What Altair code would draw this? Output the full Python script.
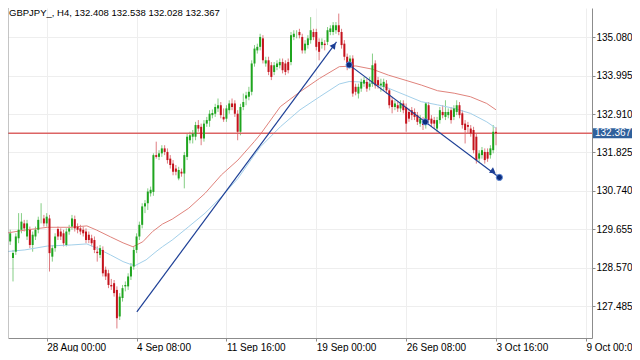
import altair as alt
import pandas as pd

# ---- candle data (H4 bars) ----
OPEN = [129.31,128.84,129.02,129.40, 129.64,129.82,129.45,129.64, 129.21,129.45,129.64,129.92,
        129.96,129.82,129.96,128.88, 129.12,129.66,129.59,129.54, 129.21,129.59,129.73,129.94,
        129.73,129.68,129.64,129.59, 129.50,129.40,129.35,129.02, 128.93,129.07,128.51,128.41,
        128.08,128.13,127.94,127.19, 127.71,128.04,128.04,128.32, 128.60,129.07,129.45,129.78,
        130.30,130.39,130.67,130.71, 131.75,131.70,131.80,131.94, 131.84,131.65,131.51,131.37,
        131.09,131.28,131.23,131.70, 132.17,132.27,132.27,132.60, 132.55,132.22,132.64,132.72,
        132.88,132.92,133.07,133.16, 132.83,132.78,133.02,133.21, 133.21,132.92,132.41,133.11,
        133.35,133.40,133.54,134.34, 134.71,134.81,135.05,134.34, 134.43,134.29,134.10,134.24,
        134.29,134.38,134.34,134.38, 134.38,135.09,135.18,135.23, 135.09,134.71,134.86,135.00,
        135.23,135.23,134.95,134.86, 134.90,134.95,135.23,135.23, 135.28,135.42,135.23,134.90,
        134.53,134.29,134.48,133.68, 133.49,133.63,133.77,133.82, 133.68,133.77,134.34,133.87,
        133.72,133.68,133.77,133.58, 133.30,133.11,133.16,133.07, 133.21,133.11,132.97,133.02,
        132.97,132.88,132.64,132.74, 132.60,133.16,132.78,132.74, 132.50,132.74,132.97,132.83,
        132.88,133.02,132.83,132.97, 133.16,132.93,132.64,132.60, 132.50,132.46,132.27,131.65,
        131.75,131.84,131.84,131.75, 131.89,132.408]
HIGH = [129.64,129.07,129.54,130.11, 130.11,129.92,129.92,129.73, 129.59,129.73,130.01,130.39,
        130.06,130.11,130.06,129.21, 129.54,129.73,129.68,129.64, 129.68,129.78,130.06,130.04,
        129.82,129.78,129.73,129.68, 129.59,129.50,129.45,129.17, 129.21,129.17,128.60,128.51,
        128.25,128.22,128.04,127.85, 128.08,128.18,128.41,128.70, 129.17,129.54,129.87,130.39,
        130.48,130.81,130.86,131.80, 132.13,131.89,132.03,132.03, 131.94,131.75,131.61,131.47,
        131.42,131.37,131.84,132.36, 132.41,132.46,132.69,132.74, 132.64,132.74,132.83,133.02,
        133.04,133.20,133.35,133.25, 133.07,133.16,133.30,133.35, 133.30,133.02,133.20,133.49,
        133.54,133.68,134.43,134.86, 134.90,135.18,135.14,134.53, 134.53,134.38,134.38,134.43,
        134.48,134.48,134.43,134.48, 135.23,135.28,135.28,135.32, 135.18,135.00,135.14,135.65,
        135.32,135.32,135.05,135.05, 135.00,135.37,135.42,135.51, 135.51,135.75,135.32,135.00,
        134.62,134.57,134.57,133.77, 133.77,133.91,133.96,133.91, 133.96,134.62,134.43,133.96,
        133.91,133.91,133.87,133.63, 133.40,133.30,133.25,133.30, 133.30,133.21,133.07,133.11,
        133.07,132.97,132.88,132.83, 133.25,133.25,132.88,132.83, 132.83,133.11,133.16,133.30,
        133.07,133.11,133.16,133.30, 133.25,133.02,132.74,132.69, 132.60,132.55,132.36,131.89,
        131.98,131.94,131.94,132.03, 132.60,132.538]
LOW = [129.21,128.18,128.93,129.26, 129.54,129.59,129.35,129.12, 129.02,129.35,129.54,129.82,
       129.73,129.73,128.46,128.74, 129.02,129.35,129.35,129.17, 129.17,129.50,129.64,129.59,
       129.54,129.50,129.45,129.26, 129.26,129.17,128.98,128.74, 128.84,128.32,128.22,127.99,
       127.94,127.75,126.85,127.09, 127.61,127.90,127.94,128.22, 128.51,128.98,129.35,129.68,
       130.11,130.20,130.58,130.60, 131.65,131.61,131.70,131.75, 131.51,131.37,131.18,131.18,
       131.04,131.14,130.81,131.61, 132.08,132.08,132.17,132.41, 132.03,132.13,132.55,132.55,
       132.79,132.83,132.97,132.79, 132.69,132.69,132.92,133.02, 132.83,132.17,132.31,133.02,
       133.16,133.30,133.44,134.25, 134.62,134.71,134.34,134.25, 134.01,133.87,134.01,134.15,
       134.20,134.06,134.01,134.06, 134.29,135.00,135.05,135.05, 134.62,134.62,134.76,134.90,
       135.00,134.71,134.43,134.76, 134.71,134.86,135.14,135.14, 135.18,135.14,134.76,134.43,
       134.15,134.20,133.40,133.44, 133.35,133.54,133.68,133.54, 133.58,133.68,133.63,133.63,
       133.54,133.58,133.49,133.07, 132.93,133.02,132.97,132.97, 132.93,132.41,132.69,132.74,
       132.74,132.60,132.55,132.46, 132.50,132.64,132.55,132.50, 132.41,132.64,132.79,132.74,
       132.79,132.64,132.74,132.88, 132.79,132.50,132.08,132.36, 132.27,131.80,131.51,131.56,
       131.65,131.51,131.56,131.65, 131.80,132.028]
CLOSE = [129.54,128.98,129.45,129.64, 129.87,129.68,129.82,129.21, 129.50,129.64,129.92,129.92,
         129.82,130.01,128.98,129.12, 129.45,129.45,129.45,129.26, 129.59,129.68,129.96,129.68,
         129.64,129.59,129.54,129.35, 129.35,129.26,129.07,128.98, 129.12,128.41,128.32,128.08,
         128.04,127.85,127.14,127.75, 127.99,128.08,128.32,128.60, 129.07,129.45,129.78,130.30,
         130.39,130.72,130.77,131.75, 131.70,131.80,131.94,131.84, 131.61,131.47,131.28,131.28,
         131.33,131.23,131.75,132.27, 132.31,132.36,132.60,132.50, 132.22,132.64,132.74,132.92,
         132.94,133.11,133.16,132.88, 132.76,133.07,133.21,133.11, 132.92,132.41,133.11,133.25,
         133.44,133.54,134.34,134.76, 134.81,135.09,134.43,134.43, 134.10,133.96,134.29,134.34,
         134.38,134.15,134.10,134.15, 135.14,135.18,135.18,135.14, 134.71,134.90,135.05,135.28,
         135.09,134.81,134.67,134.95, 134.86,135.28,135.33,135.42, 135.42,135.23,134.86,134.53,
         134.24,134.48,133.49,133.54, 133.68,133.82,133.87,133.63, 133.77,134.29,133.72,133.72,
         133.77,133.82,133.58,133.16, 133.11,133.21,133.07,133.21, 133.02,132.64,132.78,132.88,
         132.83,132.69,132.78,132.60, 133.21,132.74,132.64,132.64, 132.74,133.02,132.88,132.97,
         132.97,132.74,133.07,133.16, 132.88,132.60,132.46,132.55, 132.36,131.89,131.61,131.80,
         131.89,131.61,131.65,131.94, 132.41,132.367]

# ---- moving averages, read at sampled bars ----
MA_RED_BAR = [-1.8, 5.2, 13.3, 21.7, 27.3, 30.8, 35.7, 40.2, 43.7, 47.2, 50.7, 54.2, 57.7,
              63.6, 69.4, 75.2, 81.1, 86.9, 89.2, 96.2, 103.2, 110.2, 117.2, 123.1, 128.9,
              134.7, 140.6, 146.4, 152.2, 158.1, 163.9, 169.7, 173.0]
MA_RED = [129.54, 129.63, 129.71, 129.71, 129.75, 129.63, 129.44, 129.27, 129.16, 129.30,
          129.59, 129.80, 129.94, 130.25, 130.67, 131.19, 131.61, 132.13, 132.35, 133.12,
          133.54, 133.92, 134.25, 134.27, 134.18, 134.01, 133.87, 133.73, 133.57, 133.50,
          133.40, 133.21, 133.03]
MA_BLUE_BAR = [-1.8, 5.2, 13.3, 21.7, 27.3, 30.8, 35.7, 40.2, 44.3, 48.4, 51.9, 54.2, 57.7,
               63.6, 69.4, 75.2, 81.1, 86.9, 89.2, 96.2, 103.2, 110.2, 117.2, 120.7, 124.2,
               128.9, 134.7, 140.6, 146.4, 152.2, 158.1, 163.9, 169.7, 173.0]
MA_BLUE = [129.02, 129.07, 129.18, 129.21, 129.24, 129.12, 128.93, 128.74, 128.62, 128.79,
           129.02, 129.16, 129.35, 129.73, 130.11, 130.57, 131.09, 131.75, 131.99, 132.55,
           133.03, 133.40, 133.76, 133.83, 133.82, 133.78, 133.64, 133.45, 133.26, 133.17,
           133.07, 132.93, 132.69, 132.51]

# ---- drawn trend lines ----
TREND_ID = ["up", "up", "down", "down"]
TREND_BAR = [45.1, 116.2, 120.7, 174.2]
TREND_PRICE = [127.32, 134.95, 134.30, 131.12]
DOT_BAR = [120.7, 147.8, 174.2]
DOT_PRICE = [134.30, 132.69, 131.12]
ARROW_BAR = [115.3, 172.05]
ARROW_PRICE = [134.85, 131.28]
ARROW_ANGLE = [37, 126]

# ---- axes ----
Y_TICKS = [135.080, 133.995, 132.910, 131.825, 130.740, 129.655, 128.570, 127.485]
X_TICK_BAR = [13, 45, 77, 109, 141, 173, 205]
X_TICK_LABELS = ["28 Aug 00:00", "4 Sep 08:00", "11 Sep 16:00", "19 Sep 00:00",
                 "26 Sep 08:00", "3 Oct 16:00", "9 Oct 00:00"]
LAST_PRICE = 132.367
TITLE = "GBPJPY_, H4, 132.408 132.538 132.028 132.367"

W, H = 584, 330
Y_DOMAIN = [126.581, 135.908]
X_DOMAIN = [1.0, 205.4]
FONT = "Liberation Sans"
GREEN = "#1fa51f"
RED = "#c4121c"
FRAME = "#8c8c8c"

candles = pd.DataFrame({"i": list(range(len(OPEN))), "o": OPEN, "h": HIGH, "l": LOW, "c": CLOSE})
ma_red = pd.DataFrame({"i": MA_RED_BAR, "v": MA_RED})
ma_blue = pd.DataFrame({"i": MA_BLUE_BAR, "v": MA_BLUE})
trend = pd.DataFrame({"id": TREND_ID, "i": TREND_BAR, "v": TREND_PRICE})
dots = pd.DataFrame({"i": DOT_BAR, "v": DOT_PRICE})
arrows = pd.DataFrame({"i": ARROW_BAR, "v": ARROW_PRICE, "a": ARROW_ANGLE})
half = 5.0 * (Y_DOMAIN[1] - Y_DOMAIN[0]) / H
box = pd.DataFrame({"lo": [LAST_PRICE - half], "hi": [LAST_PRICE + half], "v": [LAST_PRICE],
                    "t": [f"{LAST_PRICE:.3f}"]})

xs = alt.Scale(domain=X_DOMAIN, nice=False, zero=False)
ys = alt.Scale(domain=Y_DOMAIN, nice=False, zero=False)

expr = "''"
for pos, lab in reversed(list(zip(X_TICK_BAR, X_TICK_LABELS))):
    expr = f"abs(datum.value - {pos}) < 1 ? '{lab}' : ({expr})"

x_axis = alt.Axis(values=X_TICK_BAR, labelExpr=expr, title=None, grid=True,
                  gridColor="#eeeeee", domainColor=FRAME, tickColor=FRAME, tickSize=3,
                  labelAlign="left", labelBaseline="top", labelFlush=False, labelOverlap=False,
                  labelPadding=1, labelFontSize=10, labelFont=FONT, labelColor="#000000")
y_axis = alt.Axis(orient="right", values=Y_TICKS, format=".3f", title=None, grid=True,
                  gridColor="#eeeeee", domainColor=FRAME, tickColor=FRAME, tickSize=3,
                  labelPadding=1, labelFontSize=10, labelFont=FONT, labelColor="#000000",
                  labelOverlap=False, labelFlush=False)


def X(field):
    return alt.X(field, scale=xs, axis=x_axis, title=None)


def Y(field):
    return alt.Y(field, scale=ys, axis=y_axis, title=None)


updown = alt.condition("datum.c >= datum.o", alt.value(GREEN), alt.value(RED))

wicks = alt.Chart(candles).mark_rule(strokeWidth=1, opacity=0.55, clip=True).encode(
    x=X("i:Q"), y=Y("l:Q"), y2="h:Q", color=updown)
bodies = alt.Chart(candles).mark_bar(size=2.0, clip=True).encode(
    x=X("i:Q"), y=Y("o:Q"), y2="c:Q", color=updown)
red_line = alt.Chart(ma_red).mark_line(color="#e0837c", strokeWidth=1, clip=True).encode(
    x=X("i:Q"), y=Y("v:Q"))
blue_line = alt.Chart(ma_blue).mark_line(color="#a3d0ea", strokeWidth=1, clip=True).encode(
    x=X("i:Q"), y=Y("v:Q"))
price_line = alt.Chart(box).mark_rule(color="#dc6464", strokeWidth=1.5).encode(y=Y("v:Q"))
trend_lines = alt.Chart(trend).mark_line(color="#1d3f96", strokeWidth=1.2, clip=True).encode(
    x=X("i:Q"), y=Y("v:Q"), detail="id:N")
arrow_heads = alt.Chart(arrows).mark_point(shape="triangle-up", filled=True, size=45,
                                            color="#1d3f96", opacity=1).encode(
    x=X("i:Q"), y=Y("v:Q"), angle=alt.Angle("a:Q", scale=None))
dot_marks = alt.Chart(dots).mark_circle(size=38, color="#0c2c7c", opacity=1,
                                         stroke="#5d88d8", strokeWidth=1).encode(
    x=X("i:Q"), y=Y("v:Q"))
left_frame = alt.Chart(box).mark_rule(color=FRAME, strokeWidth=1).encode(
    x=alt.value(0), y=alt.value(0), y2=alt.value(H))
box_rect = alt.Chart(box).mark_rect(color="#2f609c").encode(
    x=alt.value(W + 1), x2=alt.value(W + 40), y=Y("lo:Q"), y2="hi:Q")
box_text = alt.Chart(box).mark_text(align="left", baseline="middle", color="white",
                                     fontSize=10, font=FONT).encode(
    x=alt.value(W + 3), y=Y("v:Q"), text="t:N")
title = alt.Chart(box).mark_text(align="left", baseline="top", fontSize=9.5, font=FONT,
                                  color="#000000", text=TITLE).encode(
    x=alt.value(1), y=alt.value(0))

chart = alt.layer(
    wicks, blue_line, red_line, price_line, bodies, trend_lines, arrow_heads, dot_marks,
    left_frame, box_rect, box_text, title
).properties(
    width=W, height=H,
    autosize=alt.AutoSizeParams(type="none"),
    padding={"left": 0, "top": 0, "right": 40, "bottom": 14},
).configure_view(stroke=None)

chart.save("out.html", embed_options={"renderer": "svg", "actions": False})
